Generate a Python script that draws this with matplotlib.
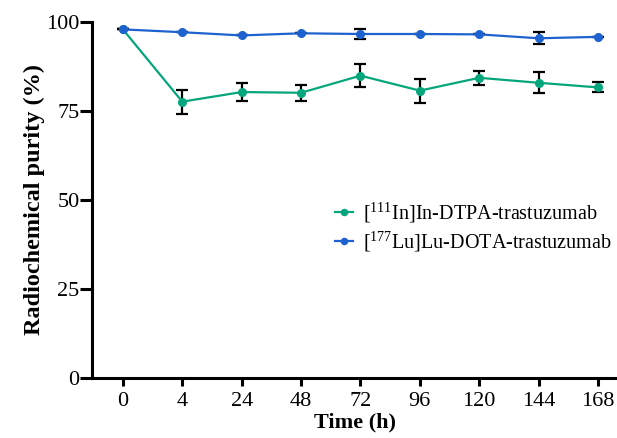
import numpy as np
import matplotlib.pyplot as plt

plt.rcParams['font.family'] = ['Liberation Serif', 'DejaVu Serif']
plt.rcParams['mathtext.fontset'] = 'custom'
plt.rcParams['mathtext.rm'] = 'Liberation Serif'

# time points (h), plotted as equally spaced categories
time_labels = ['0', '4', '24', '48', '72', '96', '120', '144', '168']

# radiochemical purity (%) and SD
in_dtpa = [97.9, 77.6, 80.3, 80.1, 84.9, 80.7, 84.3, 82.9, 81.6]
in_dtpa_sd = [0.0, 3.4, 2.6, 2.2, 3.2, 3.4, 2.0, 2.9, 1.4]
lu_dota = [97.9, 97.1, 96.2, 96.8, 96.6, 96.6, 96.5, 95.4, 95.8]
lu_dota_sd = [0.0, 0.0, 0.0, 0.0, 1.4, 0.0, 0.0, 1.7, 0.0]

green = '#06A67C'
blue = '#1E62D0'

fig = plt.figure(figsize=(6.17, 4.38), dpi=100)
ax = fig.add_axes([92 / 617, 0.137, 1 - 92 / 617, 0.813])

x = np.arange(len(time_labels))
series = [(in_dtpa, in_dtpa_sd, green, r'[$^{111}$In]In-DTPA-trastuzumab'),
          (lu_dota, lu_dota_sd, blue, r'[$^{177}$Lu]Lu-DOTA-trastuzumab')]
handles = []
for y, sd, c, lab in series:
    ax.errorbar(x, y, yerr=sd, fmt='none', ecolor='black', elinewidth=1.6,
                capsize=4, capthick=1.6, zorder=2)
    ln, = ax.plot(x, y, color=c, lw=1.6, marker='o', ms=5.5, zorder=3, label=lab)
    handles.append(ln)

ax.set_xlim(-0.52, 8.32)
ax.set_ylim(0, 100)
ax.set_xticks(x)
ax.set_xticklabels(time_labels)
ax.set_yticks([0, 25, 50, 75, 100])

for s in ['top', 'right']:
    ax.spines[s].set_visible(False)
for s in ['left', 'bottom']:
    ax.spines[s].set_linewidth(2.2)
ax.tick_params(axis='y', length=9, width=2.2, labelsize=16, pad=0)
ax.tick_params(axis='x', length=6, width=2.2, labelsize=16, pad=4)

ax.set_xlabel('Time (h)', fontsize=16, fontweight='bold', labelpad=1)
ax.set_ylabel('Radiochemical purity (%)', fontsize=17.5, fontweight='bold', labelpad=1)

ax.legend(handles=handles, loc='upper left', bbox_to_anchor=(0.463, 0.50),
          frameon=False, fontsize=14.5, handlelength=0.9, handletextpad=0.5,
          labelspacing=0.2, borderpad=0, borderaxespad=0, markerscale=0.8)

fig.savefig('out.png', dpi=100)
